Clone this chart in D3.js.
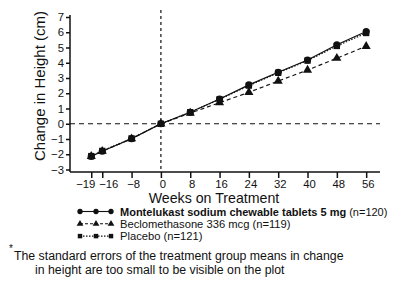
<!DOCTYPE html>
<html><head><meta charset="utf-8">
<script src="https://cdn.jsdelivr.net/npm/d3@7"></script>
<style>body{margin:0;background:#fff}svg{display:block}text{font-family:"Liberation Sans",Arial,sans-serif;fill:#111}</style>
</head><body><svg id="c" width="400" height="285"></svg>
<script>
const weeks = [-19, -16, -8, 0, 8, 16, 24, 32, 40, 48, 56];
const montelukast = [-2.14, -1.8, -0.98, 0, 0.75, 1.62, 2.55, 3.38, 4.18, 5.18, 6.05];
const beclomethasone = [-2.14, -1.8, -0.98, 0, 0.7, 1.38, 2.06, 2.8, 3.52, 4.3, 5.08];
const placebo = [-2.12, -1.78, -0.96, 0, 0.76, 1.6, 2.5, 3.34, 4.14, 5.1, 5.95];
const yTicks = [-3, -2, -1, 0, 1, 2, 3, 4, 5, 6, 7];
const seriesNames = ["Montelukast sodium chewable tablets 5 mg", "Beclomethasone 336 mcg (n=119)", "Placebo (n=121)"];
const seriesN = ["(n=120)", "", ""];

const svg = d3.select("#c");
const col = "#111";
const x = d3.scaleLinear().domain([-24.8, 59.5]).range([70, 379]);
const y = d3.scaleLinear().domain([-3, 7]).range([169.5, 17]);
const axisY = 172;

// reference lines
svg.append("line").attr("x1", x(0)).attr("x2", x(0)).attr("y1", 10).attr("y2", axisY)
  .attr("stroke", col).attr("stroke-width", 1.2).attr("stroke-dasharray", "3,3");
svg.append("line").attr("x1", 70).attr("x2", 380).attr("y1", y(0)).attr("y2", y(0))
  .attr("stroke", col).attr("stroke-width", 1.2).attr("stroke-dasharray", "5,4");

// axes
const gy = svg.append("g").attr("transform", "translate(70,0)")
  .call(d3.axisLeft(y).tickValues(yTicks).tickSize(4).tickPadding(2).tickFormat(d3.format("d")));
gy.select(".domain").attr("d", `M0,${y(7)-2}V${axisY}`);
const gx = svg.append("g").attr("transform", `translate(0,${axisY})`)
  .call(d3.axisBottom(x).tickValues(weeks).tickSize(6).tickPadding(2).tickFormat(d3.format("d")));
gx.select(".domain").attr("d", "M70,0H380");
[gx, gy].forEach(g => {
  g.selectAll("path,line").attr("stroke", col).attr("stroke-width", 1.5);
  g.selectAll("text").attr("font-size", 11.3).attr("fill", col).style("font-family", '"Liberation Sans",Arial,sans-serif');
});
gx.selectAll("text").attr("dy", "0.71em")
  .attr("dx", d => d === -19 ? -6 : d === -16 ? 6 : 1.5);

// titles
svg.append("text").attr("transform", "translate(45,86) rotate(-90)").attr("text-anchor", "middle")
  .attr("font-size", 15).text("Change in Height (cm)");
svg.append("text").attr("x", 214).attr("y", 202.5).attr("text-anchor", "middle")
  .attr("font-size", 14.2).text("Weeks on Treatment");

// series
const line = d3.line().x((d, i) => x(weeks[i])).y(d => y(d));
const series = [
  {v: beclomethasone, dash: "4,3", sym: d3.symbolTriangle, size: 36},
  {v: placebo, dash: "1.5,1.5", sym: d3.symbolSquare, size: 40},
  {v: montelukast, dash: null, sym: d3.symbolCircle, size: 40}
];
series.forEach(s => {
  svg.append("path").attr("d", line(s.v)).attr("fill", "none").attr("stroke", col)
    .attr("stroke-width", 1.2).attr("stroke-dasharray", s.dash);
  svg.selectAll(null).data(s.v).enter().append("path")
    .attr("d", d3.symbol().type(s.sym).size(s.size))
    .attr("transform", (d, i) => `translate(${x(weeks[i])},${y(d)})`).attr("fill", col);
});

// legend
const leg = [
  {sym: d3.symbolCircle, dash: null, size: 22, bold: true},
  {sym: d3.symbolTriangle, dash: "3,2", size: 20, bold: false},
  {sym: d3.symbolSquare, dash: "1.5,1.5", size: 20, bold: false}
];
leg.forEach((l, i) => {
  const ly = 211.5 + i * 12.3;
  svg.append("line").attr("x1", 80).attr("x2", 111).attr("y1", ly).attr("y2", ly)
    .attr("stroke", col).attr("stroke-width", 1.1).attr("stroke-dasharray", l.dash);
  [80, 96, 111].forEach(px => svg.append("path").attr("d", d3.symbol().type(l.sym).size(l.size)())
    .attr("transform", `translate(${px},${ly})`).attr("fill", col));
  const t = svg.append("text").attr("x", 120).attr("y", ly + 4).attr("font-size", l.bold ? 11 : 11.2)
    .attr("font-weight", l.bold ? "bold" : "normal");
  t.append("tspan").text(seriesNames[i]);
  if (seriesN[i]) t.append("tspan").attr("font-weight", "normal").attr("dx", 3).text(seriesN[i]);
});

// footnote
svg.append("text").attr("x", 9).attr("y", 252).attr("font-size", 10).text("*");
svg.append("text").attr("x", 14).attr("y", 260).attr("font-size", 12.3)
  .text("The standard errors of the treatment group means in change");
svg.append("text").attr("x", 35).attr("y", 274).attr("font-size", 12.3)
  .text("in height are too small to be visible on the plot");
</script></body></html>
